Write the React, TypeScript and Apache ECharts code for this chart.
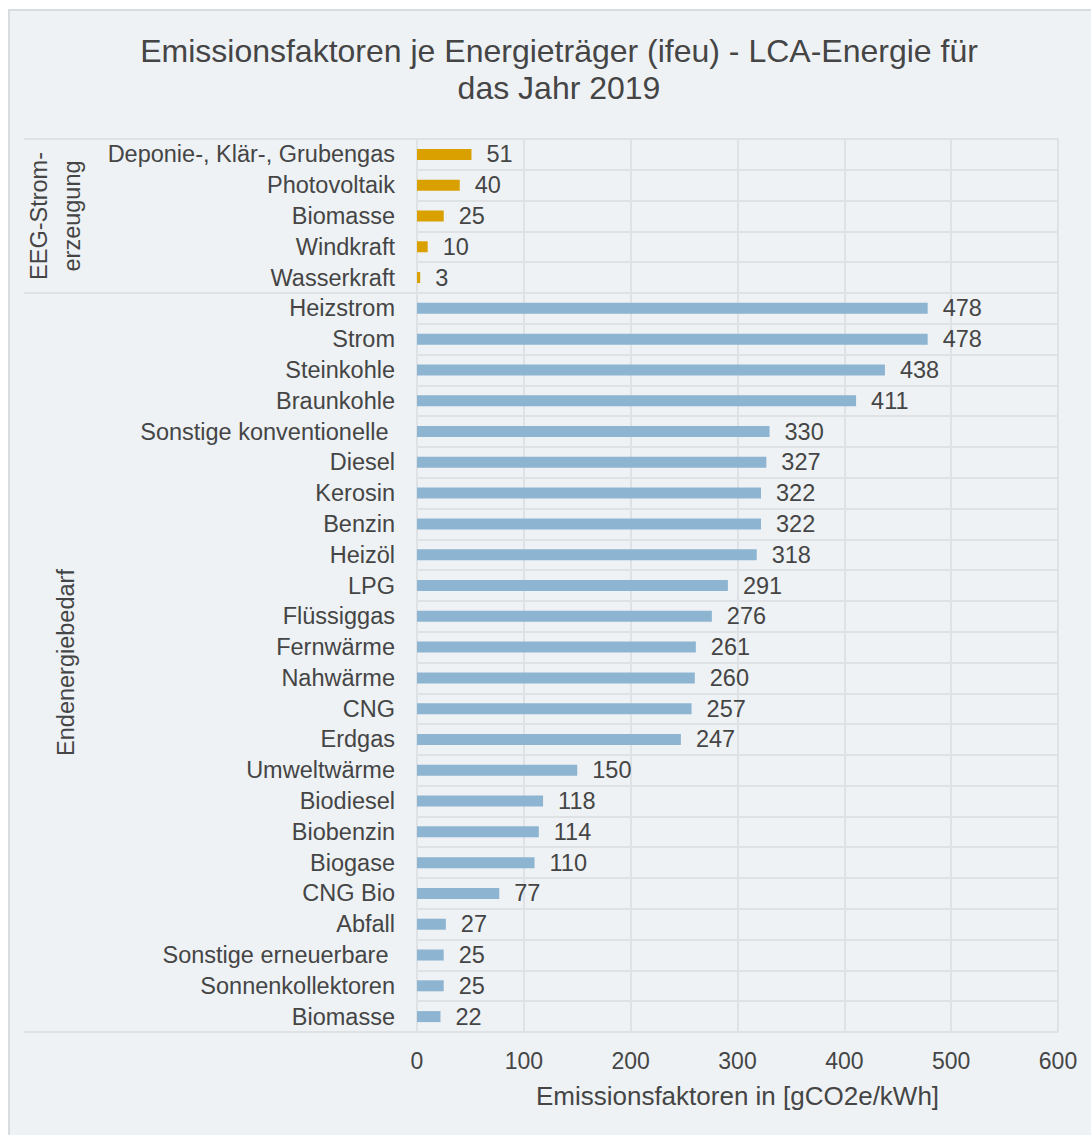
import React, { useEffect, useRef } from "react";
import * as echarts from "echarts";

const categories: string[] = [
  "Deponie-, Klär-, Grubengas",
  "Photovoltaik",
  "Biomasse",
  "Windkraft",
  "Wasserkraft",
  "Heizstrom",
  "Strom",
  "Steinkohle",
  "Braunkohle",
  "Sonstige konventionelle ",
  "Diesel",
  "Kerosin",
  "Benzin",
  "Heizöl",
  "LPG",
  "Flüssiggas",
  "Fernwärme",
  "Nahwärme",
  "CNG",
  "Erdgas",
  "Umweltwärme",
  "Biodiesel",
  "Biobenzin",
  "Biogase",
  "CNG Bio",
  "Abfall",
  "Sonstige erneuerbare ",
  "Sonnenkollektoren",
  "Biomasse",
];

const values: number[] = [
  51, 40, 25, 10, 3,
  478, 478, 438, 411, 330, 327, 322, 322, 318, 291, 276, 261, 260, 257, 247,
  150, 118, 114, 110, 77, 27, 25, 25, 22,
];

// group index per category: 0 = EEG-Stromerzeugung, 1 = Endenergiebedarf
const groupOf: number[] = [
  0, 0, 0, 0, 0,
  1, 1, 1, 1, 1, 1, 1, 1, 1, 1, 1, 1, 1, 1, 1, 1, 1, 1, 1, 1, 1, 1, 1, 1,
];
const groupNames: string[] = ["EEG-Strom-\nerzeugung", "Endenergiebedarf"];

const xTicks = { min: 0, max: 600, interval: 100 };

const TITLE = "Emissionsfaktoren je Energieträger (ifeu) - LCA-Energie für\ndas Jahr 2019";
const AXIS_NAME = "Emissionsfaktoren in [gCO2e/kWh]";

const COLORS = ["#d9a000", "#8db4d1"];
const TEXT = "#454545";
const GRID = "#dfe2e5";
const FONT = "Liberation Sans, Arial, sans-serif";

export default function App() {
  const ref = useRef<HTMLDivElement>(null);

  useEffect(() => {
    if (!ref.current) return;
    const chart = echarts.init(ref.current, undefined, { renderer: "svg" });
    const idx = categories.map((_, i) => String(i));

    const option: any = {
      animation: false,
      backgroundColor: "#eef2f5",
      textStyle: { fontFamily: FONT },
      title: {
        text: TITLE,
        left: 549,
        top: 21,
        textAlign: "center",
        padding: 0,
        textStyle: {
          fontFamily: FONT,
          fontSize: 32,
          fontWeight: "normal",
          color: TEXT,
          lineHeight: 37,
        },
      },
      grid: { left: 407, top: 128, width: 641, height: 893, containLabel: false },
      xAxis: {
        type: "value",
        min: xTicks.min,
        max: xTicks.max,
        interval: xTicks.interval,
        axisLine: { show: false },
        axisTick: { show: false },
        splitLine: { show: true, lineStyle: { color: GRID, width: 2 } },
        axisLabel: { fontSize: 23, color: TEXT, margin: 17, fontFamily: FONT },
        name: AXIS_NAME,
        nameLocation: "middle",
        nameGap: 51,
        nameTextStyle: { fontSize: 26, color: TEXT, fontFamily: FONT },
      },
      yAxis: {
        type: "category",
        inverse: true,
        data: idx,
        axisLine: { show: true, lineStyle: { color: GRID, width: 2 } },
        axisTick: { show: false },
        splitLine: { show: true, interval: 0, lineStyle: { color: GRID, width: 2 } },
        axisLabel: {
          interval: 0,
          fontSize: 23.5,
          color: TEXT,
          margin: 22,
          fontFamily: FONT,
          formatter: (v: string) => categories[Number(v)],
        },
      },
      series: [
        {
          type: "bar",
          barWidth: 11,
          data: values.map((v, i) => ({
            value: v,
            itemStyle: { color: COLORS[groupOf[i]] },
          })),
          label: {
            show: true,
            position: "right",
            distance: 15,
            fontSize: 23.5,
            color: TEXT,
            fontFamily: FONT,
          },
        },
      ],
    };
    chart.setOption(option);

    // group separators and labels, positioned via the axis scale
    const yPix = (i: number) => chart.convertToPixel({ yAxisIndex: 0 }, String(i)) as number;
    const band = yPix(1) - yPix(0);
    const gridRight = 407 + 641;
    const groups: { start: number; end: number }[] = [];
    groupOf.forEach((g, i) => {
      if (!groups[g]) groups[g] = { start: i, end: i };
      groups[g].end = i;
    });
    const graphics: any[] = [];
    const boundaries = new Set<number>();
    groups.forEach((gr) => {
      boundaries.add(yPix(gr.start) - band / 2);
      boundaries.add(yPix(gr.end) + band / 2);
    });
    boundaries.forEach((y) => {
      graphics.push({
        type: "line",
        shape: { x1: 14, y1: y, x2: gridRight, y2: y },
        style: { stroke: GRID, lineWidth: 2 },
        z: 1,
      });
    });
    const groupX = [45, 56];
    groups.forEach((gr, g) => {
      const yc = (yPix(gr.start) + yPix(gr.end)) / 2;
      graphics.push({
        type: "text",
        x: groupX[g],
        y: yc,
        rotation: Math.PI / 2,
        style: {
          text: groupNames[g],
          fontSize: 23.5,
          fontFamily: FONT,
          fill: TEXT,
          align: "center",
          verticalAlign: "middle",
          lineHeight: 33,
        },
        z: 5,
      });
    });
    chart.setOption({ graphic: graphics });

    return () => chart.dispose();
  }, []);

  return (
    <div
      ref={ref}
      style={{
        position: "fixed",
        left: 8,
        top: 9,
        width: 1090,
        height: 1130,
        borderLeft: "2px solid #d9dcdf",
        borderTop: "2px solid #d9dcdf",
        boxSizing: "content-box",
      }}
    />
  );
}
